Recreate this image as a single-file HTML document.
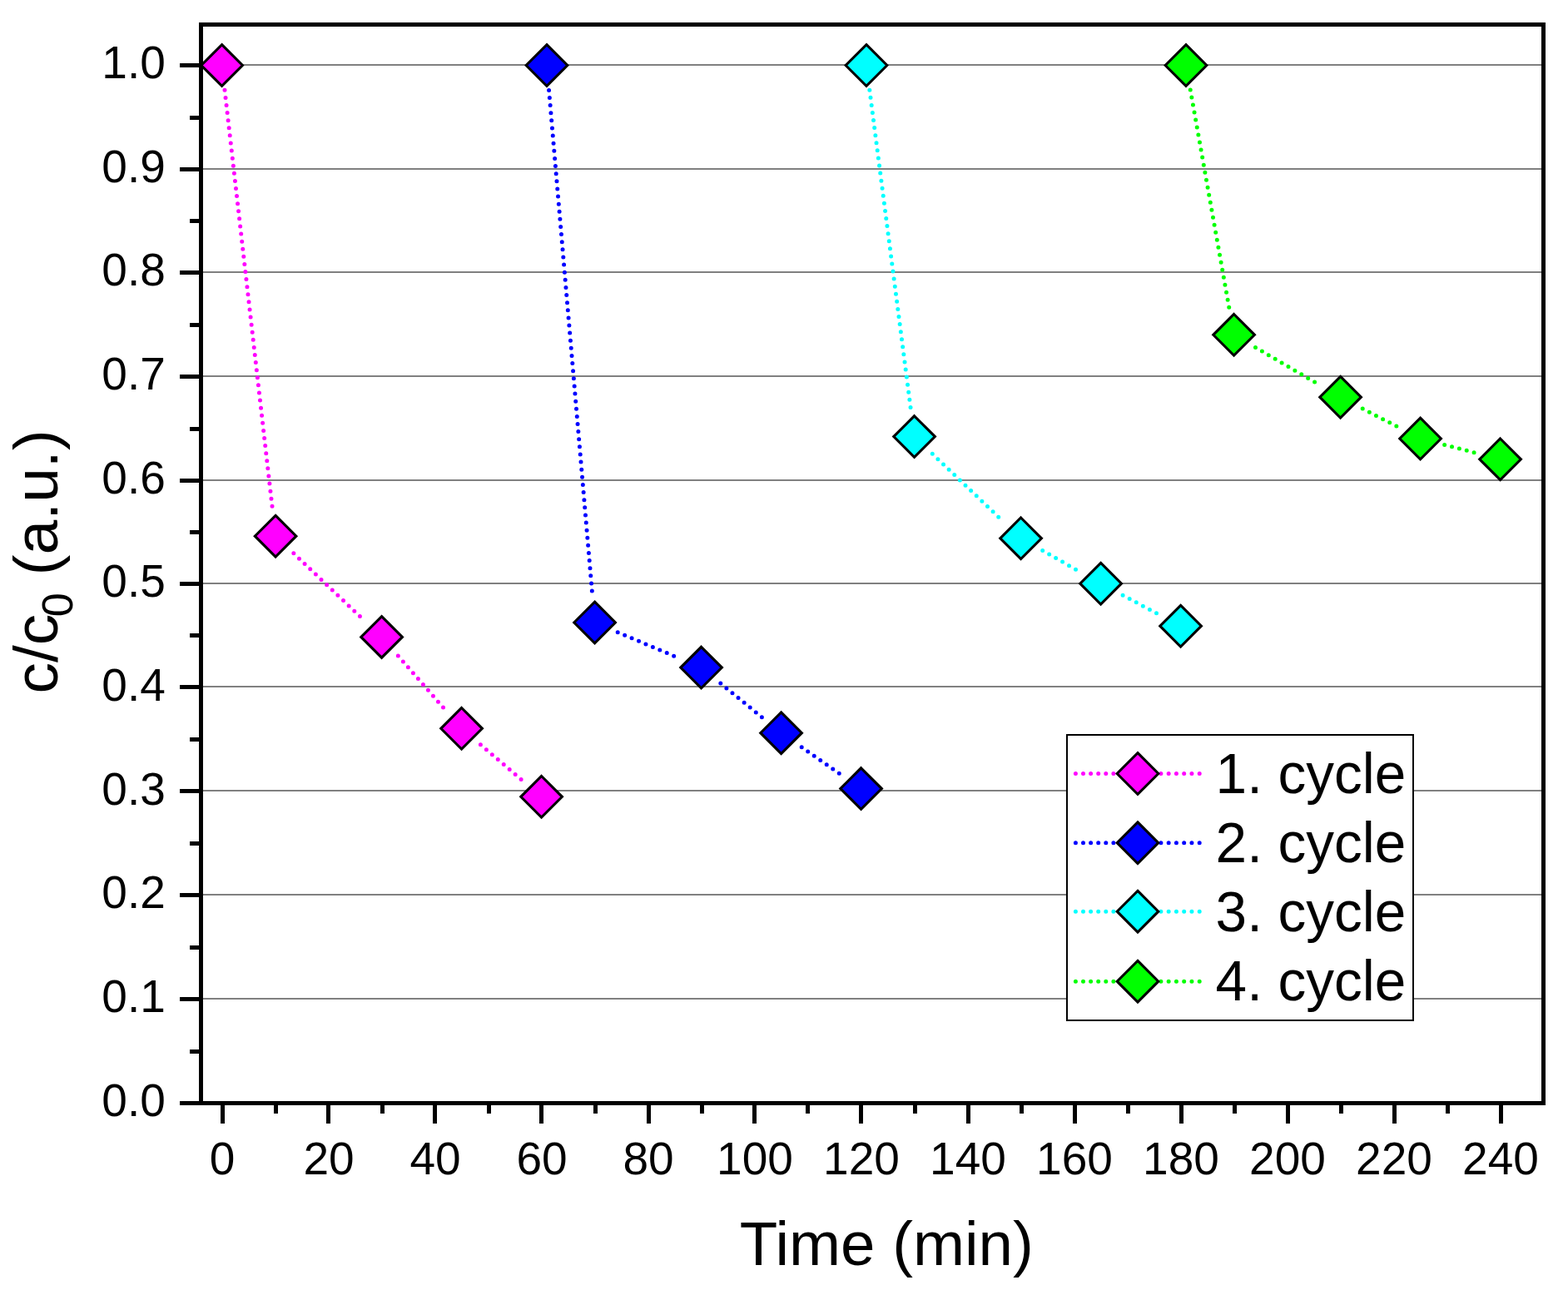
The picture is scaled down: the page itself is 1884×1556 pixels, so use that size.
<!DOCTYPE html>
<html><head><meta charset="utf-8"><title>c/c0 vs Time</title>
<style>html,body{margin:0;padding:0;background:#fff;overflow:hidden;}svg{display:block;}</style>
</head><body>
<svg width="1884" height="1556" viewBox="0 0 1884 1556">
<rect x="0" y="0" width="1884" height="1556" fill="#fff"/>
<rect x="244" y="1199" width="1608" height="2" fill="#808080"/>
<rect x="244" y="1074" width="1608" height="2" fill="#808080"/>
<rect x="244" y="949" width="1608" height="2" fill="#808080"/>
<rect x="244" y="824" width="1608" height="2" fill="#808080"/>
<rect x="244" y="700" width="1608" height="2" fill="#808080"/>
<rect x="244" y="576" width="1608" height="2" fill="#808080"/>
<rect x="244" y="451" width="1608" height="2" fill="#808080"/>
<rect x="244" y="326" width="1608" height="2" fill="#808080"/>
<rect x="244" y="202" width="1608" height="2" fill="#808080"/>
<rect x="244" y="77" width="1608" height="2" fill="#808080"/>
<rect x="216" y="1323" width="23" height="5" fill="#000"/>
<rect x="216" y="1198" width="23" height="5" fill="#000"/>
<rect x="216" y="1073" width="23" height="5" fill="#000"/>
<rect x="216" y="948" width="23" height="5" fill="#000"/>
<rect x="216" y="823" width="23" height="5" fill="#000"/>
<rect x="216" y="699" width="23" height="5" fill="#000"/>
<rect x="216" y="575" width="23" height="5" fill="#000"/>
<rect x="216" y="450" width="23" height="5" fill="#000"/>
<rect x="216" y="325" width="23" height="5" fill="#000"/>
<rect x="216" y="201" width="23" height="5" fill="#000"/>
<rect x="216" y="76" width="23" height="5" fill="#000"/>
<rect x="228" y="1261" width="11" height="5" fill="#000"/>
<rect x="228" y="1136" width="11" height="5" fill="#000"/>
<rect x="228" y="1011" width="11" height="5" fill="#000"/>
<rect x="228" y="886" width="11" height="5" fill="#000"/>
<rect x="228" y="761" width="11" height="5" fill="#000"/>
<rect x="228" y="637" width="11" height="5" fill="#000"/>
<rect x="228" y="513" width="11" height="5" fill="#000"/>
<rect x="228" y="388" width="11" height="5" fill="#000"/>
<rect x="228" y="263" width="11" height="5" fill="#000"/>
<rect x="228" y="139" width="11" height="5" fill="#000"/>
<rect x="265" y="1328" width="5" height="22" fill="#000"/>
<rect x="329" y="1328" width="5" height="10" fill="#000"/>
<rect x="392" y="1328" width="5" height="22" fill="#000"/>
<rect x="457" y="1328" width="5" height="10" fill="#000"/>
<rect x="520" y="1328" width="5" height="22" fill="#000"/>
<rect x="585" y="1328" width="5" height="10" fill="#000"/>
<rect x="648" y="1328" width="5" height="22" fill="#000"/>
<rect x="713" y="1328" width="5" height="10" fill="#000"/>
<rect x="777" y="1328" width="5" height="22" fill="#000"/>
<rect x="841" y="1328" width="5" height="10" fill="#000"/>
<rect x="904" y="1328" width="5" height="22" fill="#000"/>
<rect x="968" y="1328" width="5" height="10" fill="#000"/>
<rect x="1032" y="1328" width="5" height="22" fill="#000"/>
<rect x="1097" y="1328" width="5" height="10" fill="#000"/>
<rect x="1161" y="1328" width="5" height="22" fill="#000"/>
<rect x="1225" y="1328" width="5" height="10" fill="#000"/>
<rect x="1289" y="1328" width="5" height="22" fill="#000"/>
<rect x="1353" y="1328" width="5" height="10" fill="#000"/>
<rect x="1417" y="1328" width="5" height="22" fill="#000"/>
<rect x="1481" y="1328" width="5" height="10" fill="#000"/>
<rect x="1545" y="1328" width="5" height="22" fill="#000"/>
<rect x="1609" y="1328" width="5" height="10" fill="#000"/>
<rect x="1673" y="1328" width="5" height="22" fill="#000"/>
<rect x="1737" y="1328" width="5" height="10" fill="#000"/>
<rect x="1801" y="1328" width="5" height="22" fill="#000"/>
<path d="M270.00,108.31 L327.70,614.39 M352.84,664.87 L436.86,744.73 M478.34,787.99 L534.86,852.71 M577.41,894.78 L627.79,937.82" fill="none" stroke="#FF00FF" stroke-width="5.0" stroke-linecap="round" stroke-dasharray="0 9.15"/>
<path d="M659.57,108.39 L712.03,718.11 M742.23,759.68 L814.97,790.42 M865.81,821.11 L915.39,861.69 M963.21,897.85 L1009.99,930.45" fill="none" stroke="#0000FF" stroke-width="5.0" stroke-linecap="round" stroke-dasharray="0 9.15"/>
<path d="M1044.84,108.25 L1094.76,494.85 M1120.30,545.32 L1204.90,626.08 M1252.70,661.59 L1296.50,686.41 M1349.09,715.27 L1392.11,738.13" fill="none" stroke="#00FFFF" stroke-width="5.0" stroke-linecap="round" stroke-dasharray="0 9.15"/>
<path d="M1430.25,108.04 L1477.35,372.76 M1508.49,417.45 L1584.71,462.05 M1637.23,491.01 L1679.97,513.19 M1735.65,534.50 L1773.55,544.30" fill="none" stroke="#00FF00" stroke-width="5.0" stroke-linecap="round" stroke-dasharray="0 9.15"/>
<polygon points="266.60,53.70 291.40,78.50 266.60,103.30 241.80,78.50" fill="#FF00FF" stroke="#000" stroke-width="3.1" stroke-miterlimit="10"/>
<polygon points="331.10,619.40 355.90,644.20 331.10,669.00 306.30,644.20" fill="#FF00FF" stroke="#000" stroke-width="3.1" stroke-miterlimit="10"/>
<polygon points="458.60,740.60 483.40,765.40 458.60,790.20 433.80,765.40" fill="#FF00FF" stroke="#000" stroke-width="3.1" stroke-miterlimit="10"/>
<polygon points="554.60,850.50 579.40,875.30 554.60,900.10 529.80,875.30" fill="#FF00FF" stroke="#000" stroke-width="3.1" stroke-miterlimit="10"/>
<polygon points="650.60,932.50 675.40,957.30 650.60,982.10 625.80,957.30" fill="#FF00FF" stroke="#000" stroke-width="3.1" stroke-miterlimit="10"/>
<polygon points="657.00,53.70 681.80,78.50 657.00,103.30 632.20,78.50" fill="#0000FF" stroke="#000" stroke-width="3.1" stroke-miterlimit="10"/>
<polygon points="714.60,723.20 739.40,748.00 714.60,772.80 689.80,748.00" fill="#0000FF" stroke="#000" stroke-width="3.1" stroke-miterlimit="10"/>
<polygon points="842.60,777.30 867.40,802.10 842.60,826.90 817.80,802.10" fill="#0000FF" stroke="#000" stroke-width="3.1" stroke-miterlimit="10"/>
<polygon points="938.60,855.90 963.40,880.70 938.60,905.50 913.80,880.70" fill="#0000FF" stroke="#000" stroke-width="3.1" stroke-miterlimit="10"/>
<polygon points="1034.60,922.80 1059.40,947.60 1034.60,972.40 1009.80,947.60" fill="#0000FF" stroke="#000" stroke-width="3.1" stroke-miterlimit="10"/>
<polygon points="1041.00,53.70 1065.80,78.50 1041.00,103.30 1016.20,78.50" fill="#00FFFF" stroke="#000" stroke-width="3.1" stroke-miterlimit="10"/>
<polygon points="1098.60,499.80 1123.40,524.60 1098.60,549.40 1073.80,524.60" fill="#00FFFF" stroke="#000" stroke-width="3.1" stroke-miterlimit="10"/>
<polygon points="1226.60,622.00 1251.40,646.80 1226.60,671.60 1201.80,646.80" fill="#00FFFF" stroke="#000" stroke-width="3.1" stroke-miterlimit="10"/>
<polygon points="1322.60,676.40 1347.40,701.20 1322.60,726.00 1297.80,701.20" fill="#00FFFF" stroke="#000" stroke-width="3.1" stroke-miterlimit="10"/>
<polygon points="1418.60,727.40 1443.40,752.20 1418.60,777.00 1393.80,752.20" fill="#00FFFF" stroke="#000" stroke-width="3.1" stroke-miterlimit="10"/>
<polygon points="1425.00,53.70 1449.80,78.50 1425.00,103.30 1400.20,78.50" fill="#00FF00" stroke="#000" stroke-width="3.1" stroke-miterlimit="10"/>
<polygon points="1482.60,377.50 1507.40,402.30 1482.60,427.10 1457.80,402.30" fill="#00FF00" stroke="#000" stroke-width="3.1" stroke-miterlimit="10"/>
<polygon points="1610.60,452.40 1635.40,477.20 1610.60,502.00 1585.80,477.20" fill="#00FF00" stroke="#000" stroke-width="3.1" stroke-miterlimit="10"/>
<polygon points="1706.60,502.20 1731.40,527.00 1706.60,551.80 1681.80,527.00" fill="#00FF00" stroke="#000" stroke-width="3.1" stroke-miterlimit="10"/>
<polygon points="1802.60,527.00 1827.40,551.80 1802.60,576.60 1777.80,551.80" fill="#00FF00" stroke="#000" stroke-width="3.1" stroke-miterlimit="10"/>
<rect x="239" y="27" width="1618" height="5" fill="#000"/>
<rect x="239" y="1323" width="1618" height="5" fill="#000"/>
<rect x="239" y="27" width="5" height="1301" fill="#000"/>
<rect x="1852" y="27" width="5" height="1301" fill="#000"/>
<text x="198.8" y="1340.8" text-anchor="end" font-family='"Liberation Sans", Arial, sans-serif' font-size="55">0.0</text>
<text x="198.8" y="1216.1" text-anchor="end" font-family='"Liberation Sans", Arial, sans-serif' font-size="55">0.1</text>
<text x="198.8" y="1091.4" text-anchor="end" font-family='"Liberation Sans", Arial, sans-serif' font-size="55">0.2</text>
<text x="198.8" y="966.7" text-anchor="end" font-family='"Liberation Sans", Arial, sans-serif' font-size="55">0.3</text>
<text x="198.8" y="842.0" text-anchor="end" font-family='"Liberation Sans", Arial, sans-serif' font-size="55">0.4</text>
<text x="198.8" y="717.4" text-anchor="end" font-family='"Liberation Sans", Arial, sans-serif' font-size="55">0.5</text>
<text x="198.8" y="592.7" text-anchor="end" font-family='"Liberation Sans", Arial, sans-serif' font-size="55">0.6</text>
<text x="198.8" y="468.0" text-anchor="end" font-family='"Liberation Sans", Arial, sans-serif' font-size="55">0.7</text>
<text x="198.8" y="343.3" text-anchor="end" font-family='"Liberation Sans", Arial, sans-serif' font-size="55">0.8</text>
<text x="198.8" y="218.6" text-anchor="end" font-family='"Liberation Sans", Arial, sans-serif' font-size="55">0.9</text>
<text x="198.8" y="93.9" text-anchor="end" font-family='"Liberation Sans", Arial, sans-serif' font-size="55">1.0</text>
<text x="267.0" y="1411" text-anchor="middle" font-family='"Liberation Sans", Arial, sans-serif' font-size="55">0</text>
<text x="395.0" y="1411" text-anchor="middle" font-family='"Liberation Sans", Arial, sans-serif' font-size="55">20</text>
<text x="523.0" y="1411" text-anchor="middle" font-family='"Liberation Sans", Arial, sans-serif' font-size="55">40</text>
<text x="651.0" y="1411" text-anchor="middle" font-family='"Liberation Sans", Arial, sans-serif' font-size="55">60</text>
<text x="779.0" y="1411" text-anchor="middle" font-family='"Liberation Sans", Arial, sans-serif' font-size="55">80</text>
<text x="907.0" y="1411" text-anchor="middle" font-family='"Liberation Sans", Arial, sans-serif' font-size="55">100</text>
<text x="1035.0" y="1411" text-anchor="middle" font-family='"Liberation Sans", Arial, sans-serif' font-size="55">120</text>
<text x="1163.0" y="1411" text-anchor="middle" font-family='"Liberation Sans", Arial, sans-serif' font-size="55">140</text>
<text x="1291.0" y="1411" text-anchor="middle" font-family='"Liberation Sans", Arial, sans-serif' font-size="55">160</text>
<text x="1419.0" y="1411" text-anchor="middle" font-family='"Liberation Sans", Arial, sans-serif' font-size="55">180</text>
<text x="1547.0" y="1411" text-anchor="middle" font-family='"Liberation Sans", Arial, sans-serif' font-size="55">200</text>
<text x="1675.0" y="1411" text-anchor="middle" font-family='"Liberation Sans", Arial, sans-serif' font-size="55">220</text>
<text x="1803.0" y="1411" text-anchor="middle" font-family='"Liberation Sans", Arial, sans-serif' font-size="55">240</text>
<text x="888.7" y="1520" font-family='"Liberation Sans", Arial, sans-serif' font-size="74.5">Time (min)</text>
<text transform="translate(69,833.5) rotate(-90)" font-family='"Liberation Sans", Arial, sans-serif' font-size="75">c/c<tspan font-size="52" dx="-3.5" dy="18">0</tspan><tspan dy="-18"> (a.u.)</tspan></text>
<rect x="1282" y="883" width="416" height="343" fill="#fff" stroke="#000" stroke-width="2"/>
<path d="M1292.4,929.5 L1338.4,929.5" fill="none" stroke="#FF00FF" stroke-width="5.0" stroke-linecap="round" stroke-dasharray="0 9.1"/>
<path d="M1394.9,929.5 L1441.5,929.5" fill="none" stroke="#FF00FF" stroke-width="5.0" stroke-linecap="round" stroke-dasharray="0 9.26"/>
<polygon points="1367.00,904.70 1391.80,929.50 1367.00,954.30 1342.20,929.50" fill="#FF00FF" stroke="#000" stroke-width="3.1" stroke-miterlimit="10"/>
<text transform="translate(1460.6,953.4) scale(1,1.02)" font-family='"Liberation Sans", Arial, sans-serif' font-size="67.5">1. cycle</text>
<path d="M1292.4,1012.7 L1338.4,1012.7" fill="none" stroke="#0000FF" stroke-width="5.0" stroke-linecap="round" stroke-dasharray="0 9.1"/>
<path d="M1394.9,1012.7 L1441.5,1012.7" fill="none" stroke="#0000FF" stroke-width="5.0" stroke-linecap="round" stroke-dasharray="0 9.26"/>
<polygon points="1367.00,987.90 1391.80,1012.70 1367.00,1037.50 1342.20,1012.70" fill="#0000FF" stroke="#000" stroke-width="3.1" stroke-miterlimit="10"/>
<text transform="translate(1460.6,1036.3) scale(1,1.02)" font-family='"Liberation Sans", Arial, sans-serif' font-size="67.5">2. cycle</text>
<path d="M1292.4,1095.2 L1338.4,1095.2" fill="none" stroke="#00FFFF" stroke-width="5.0" stroke-linecap="round" stroke-dasharray="0 9.1"/>
<path d="M1394.9,1095.2 L1441.5,1095.2" fill="none" stroke="#00FFFF" stroke-width="5.0" stroke-linecap="round" stroke-dasharray="0 9.26"/>
<polygon points="1367.00,1070.40 1391.80,1095.20 1367.00,1120.00 1342.20,1095.20" fill="#00FFFF" stroke="#000" stroke-width="3.1" stroke-miterlimit="10"/>
<text transform="translate(1460.6,1119.2) scale(1,1.02)" font-family='"Liberation Sans", Arial, sans-serif' font-size="67.5">3. cycle</text>
<path d="M1292.4,1179.2 L1338.4,1179.2" fill="none" stroke="#00FF00" stroke-width="5.0" stroke-linecap="round" stroke-dasharray="0 9.1"/>
<path d="M1394.9,1179.2 L1441.5,1179.2" fill="none" stroke="#00FF00" stroke-width="5.0" stroke-linecap="round" stroke-dasharray="0 9.26"/>
<polygon points="1367.00,1154.40 1391.80,1179.20 1367.00,1204.00 1342.20,1179.20" fill="#00FF00" stroke="#000" stroke-width="3.1" stroke-miterlimit="10"/>
<text transform="translate(1460.6,1202.1) scale(1,1.02)" font-family='"Liberation Sans", Arial, sans-serif' font-size="67.5">4. cycle</text>
</svg>
</body></html>
